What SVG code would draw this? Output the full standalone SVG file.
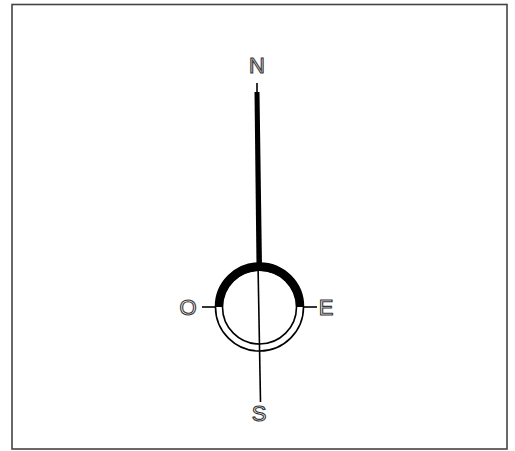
<svg xmlns="http://www.w3.org/2000/svg" width="515" height="451" viewBox="0 0 515 451">
<style>
.lbl{font-family:"Liberation Sans",Arial,sans-serif;font-size:22px;fill:#fff;stroke:#333;stroke-width:1.1;text-anchor:middle}
.thin{fill:none;stroke:#000;stroke-width:1.6}
</style>
<rect x="0" y="0" width="515" height="451" fill="#fff"/>
<rect x="12" y="4.5" width="495" height="444.5" fill="none" stroke="#444" stroke-width="1.6"/>
<g id="needle">
<line x1="257" y1="83" x2="257" y2="94" stroke="#000" stroke-width="1.6"/>
<polygon points="254.5,92 259.5,92 262,266 256.5,266" fill="#000"/>
</g>
<g id="dial">
<circle class="thin" cx="259.5" cy="307" r="44"/>
<circle class="thin" cx="259.5" cy="307" r="37"/>
<path d="M215.5,307 A44,44 0 0 1 303.5,307 L296.5,307 A36,35 0 0 0 222.5,307 Z" fill="#000"/>
<line class="thin" x1="202" y1="307" x2="216" y2="307"/>
<line class="thin" x1="303" y1="307" x2="317" y2="307"/>
<line class="thin" x1="258" y1="264" x2="260.5" y2="402"/>
</g>
<g id="labels" opacity="0.99">
<text class="lbl" x="257" y="73">N</text>
<text class="lbl" x="188" y="315">O</text>
<text class="lbl" x="326" y="315">E</text>
<text class="lbl" x="259" y="421">S</text>
</g>
</svg>
